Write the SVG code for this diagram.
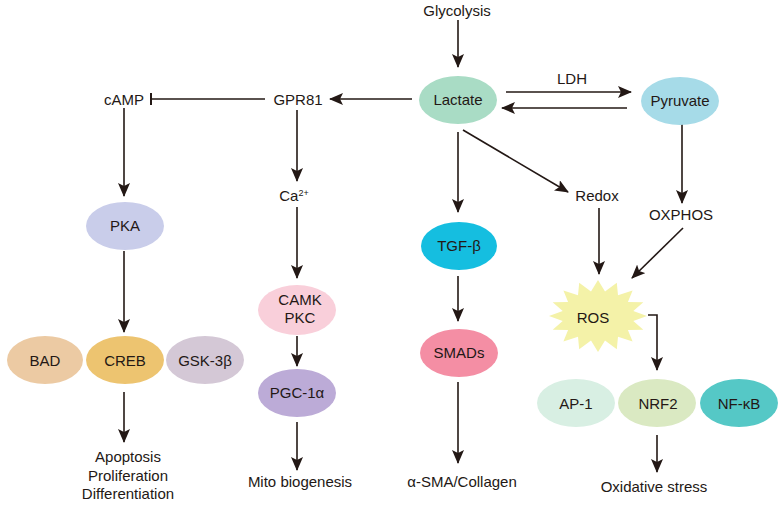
<svg xmlns="http://www.w3.org/2000/svg" width="780" height="507" viewBox="0 0 780 507">
<defs>
<marker id="ah" markerUnits="userSpaceOnUse" markerWidth="14" markerHeight="12" viewBox="0 0 14 12" refX="13" refY="6" orient="auto">
<path d="M0,0 L14,6 L0,12 L3,6 z" fill="#231815"/>
</marker>
<marker id="bar" markerUnits="userSpaceOnUse" markerWidth="4" markerHeight="12" viewBox="0 0 4 12" refX="1" refY="6" orient="auto">
<path d="M1,0 L1,12" stroke="#231815" stroke-width="2"/>
</marker>
</defs>
<style>
text{font-family:"Liberation Sans",Arial,sans-serif;font-size:15px;fill:#231815;text-anchor:middle}
.c line,.c path{stroke:#231815;stroke-width:1.6;fill:none}
.a{marker-end:url(#ah)}
</style>
<rect width="780" height="507" fill="#fff"/>
<g class="c" id="connectors">
<line class="a" x1="458" y1="20" x2="458" y2="67"/>
<line class="a" x1="506" y1="92" x2="631" y2="92"/>
<line class="a" x1="627" y1="108" x2="502" y2="108"/>
<line class="a" x1="412" y1="99" x2="330" y2="99"/>
<line x1="265" y1="99" x2="151" y2="99" marker-end="url(#bar)"/>
<line class="a" x1="124" y1="108" x2="124" y2="196"/>
<line class="a" x1="297" y1="110" x2="297" y2="181"/>
<line class="a" x1="297" y1="207" x2="297" y2="278"/>
<line class="a" x1="297" y1="336" x2="297" y2="366"/>
<line class="a" x1="297" y1="422" x2="297" y2="470"/>
<line class="a" x1="124" y1="251" x2="124" y2="332"/>
<line class="a" x1="124" y1="392" x2="124" y2="442"/>
<line class="a" x1="458" y1="132" x2="458" y2="212"/>
<line class="a" x1="458" y1="276" x2="458" y2="321"/>
<line class="a" x1="458" y1="382" x2="458" y2="463"/>
<line class="a" x1="463" y1="130" x2="568" y2="192"/>
<line class="a" x1="599" y1="208" x2="599" y2="274"/>
<line class="a" x1="682" y1="122" x2="682" y2="203"/>
<line class="a" x1="683" y1="228" x2="632" y2="278"/>
<path class="a" d="M648,315 L657,315 L657,370"/>
<line class="a" x1="657" y1="435" x2="657" y2="472"/>
</g>
<g id="glycolysis"><text x="457" y="16">Glycolysis</text></g>
<g id="lactate"><ellipse cx="458" cy="100" rx="39" ry="24" fill="#a9dcc5"/><text x="458" y="105">Lactate</text></g>
<g id="ldh"><text x="572" y="84">LDH</text></g>
<g id="pyruvate"><ellipse cx="680" cy="101" rx="39" ry="24" fill="#a6dbe8"/><text x="680" y="106">Pyruvate</text></g>
<g id="gpr81"><text x="298" y="105">GPR81</text></g>
<g id="camp"><text x="124" y="105">cAMP</text></g>
<g id="ca"><text x="294" y="201">Ca<tspan font-size="9" dy="-5">2+</tspan></text></g>
<g id="pka"><ellipse cx="125" cy="226" rx="39" ry="24" fill="#c9cdea"/><text x="125" y="231">PKA</text></g>
<g id="bad"><ellipse cx="45" cy="360" rx="38" ry="24" fill="#eccaa3"/><text x="45" y="366">BAD</text></g>
<g id="creb"><ellipse cx="125" cy="360" rx="39" ry="24" fill="#edc470"/><text x="125" y="366">CREB</text></g>
<g id="gsk"><ellipse cx="205" cy="360" rx="39" ry="24" fill="#d4c8d6"/><text x="205" y="366">GSK-3β</text></g>
<g id="outcome1"><text x="128" y="462">Apoptosis</text><text x="128" y="481">Proliferation</text><text x="128" y="499">Differentiation</text></g>
<g id="camk"><ellipse cx="297" cy="310" rx="39" ry="25" fill="#f9cfda"/><text x="300" y="305">CAMK</text><text x="300" y="323">PKC</text></g>
<g id="pgc"><ellipse cx="297" cy="393" rx="39" ry="24" fill="#bcabd7"/><text x="297" y="398">PGC-1α</text></g>
<g id="mito"><text x="300" y="487">Mito biogenesis</text></g>
<g id="tgf"><ellipse cx="459" cy="246" rx="38" ry="24" fill="#15bee0"/><text x="459" y="251">TGF-β</text></g>
<g id="smads"><ellipse cx="459" cy="353" rx="39" ry="24" fill="#f48ea4"/><text x="459" y="358">SMADs</text></g>
<g id="sma"><text x="462" y="487">α-SMA/Collagen</text></g>
<g id="redox"><text x="597" y="201">Redox</text></g>
<g id="oxphos"><text x="681" y="220">OXPHOS</text></g>
<g id="ros"><polygon fill="#f4f2a8" points="647,316 633.3,320.9 643.3,329.8 627.9,329.9 632.6,341.5 618,336.8 616.8,349.3 605,340.5 598,352 591,340.5 579.2,349.3 578,336.8 563.4,341.5 568.1,329.9 552.7,329.8 562.7,320.9 549,316 562.7,311.1 552.7,302.2 568.1,302.1 563.4,290.5 578,295.2 579.2,282.7 591,291.5 598,280 605,291.5 616.8,282.7 618,295.2 632.6,290.5 627.9,302.1 643.3,302.2 633.3,311.1"/><text x="593" y="323">ROS</text></g>
<g id="ap1"><ellipse cx="576" cy="403" rx="39" ry="24" fill="#d8efe3"/><text x="576" y="409">AP-1</text></g>
<g id="nrf2"><ellipse cx="657" cy="403" rx="39" ry="24" fill="#dae9c2"/><text x="658" y="409">NRF2</text></g>
<g id="nfkb"><ellipse cx="739" cy="403" rx="39" ry="24" fill="#55c8c6"/><text x="739" y="409">NF-κB</text></g>
<g id="oxstress"><text x="654" y="492">Oxidative stress</text></g>
</svg>
